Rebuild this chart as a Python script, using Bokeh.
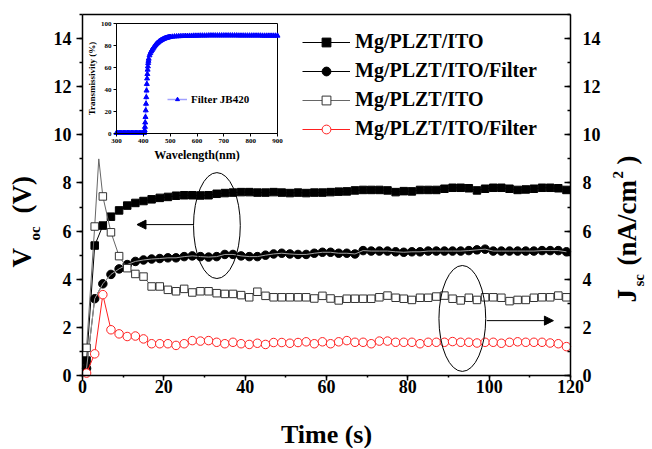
import numpy as np
from bokeh.plotting import figure
from bokeh.models import (Range1d, LinearAxis, SingleIntervalTicker, FixedTicker, Legend,
                          LegendItem, Label, Arrow, NormalHead)
from bokeh.embed import file_html
from bokeh.resources import INLINE

FONT = "Liberation Serif"

# ---------------- main chart data ----------------
time_s = list(range(1, 121, 2))
voc_ito = [0.62, 5.4, 6.23, 6.6, 6.86, 7.06, 7.17, 7.25, 7.32, 7.38, 7.42, 7.47, 7.49, 7.49,
           7.48, 7.49, 7.55, 7.58, 7.6, 7.62, 7.62, 7.6, 7.6, 7.62, 7.6, 7.58, 7.6, 7.58, 7.6,
           7.6, 7.62, 7.64, 7.65,
           7.69, 7.71, 7.71, 7.71, 7.69, 7.62, 7.66, 7.65, 7.71, 7.71, 7.71, 7.76, 7.8, 7.8,
           7.78, 7.69, 7.76, 7.8, 7.8, 7.76, 7.71, 7.73, 7.76, 7.8, 7.8, 7.78, 7.71]
voc_filter = [0.3, 3.19, 3.81, 4.2, 4.43, 4.61, 4.74, 4.8, 4.84, 4.86, 4.89, 4.89, 4.94, 4.97,
              4.94, 4.92, 4.94, 5.03, 5.03, 4.97, 4.94, 4.94, 5.0, 5.05, 5.08, 5.05, 5.03, 5.03,
              5.08, 5.12, 5.12, 5.08, 5.08,
              5.05, 5.19, 5.17, 5.17, 5.17, 5.14, 5.12, 5.14, 5.14, 5.17, 5.17, 5.17, 5.17,
              5.17, 5.19, 5.22, 5.25, 5.17, 5.17, 5.17, 5.17, 5.17, 5.17, 5.19, 5.19, 5.19, 5.14]
jsc_ito = [1.15, 6.19, 7.44, 5.95, 4.96, 4.46, 4.22, 4.11, 3.7, 3.7, 3.56, 3.5, 3.6, 3.45, 3.5,
           3.5, 3.42, 3.39, 3.39, 3.34, 3.25, 3.48, 3.31, 3.25, 3.25, 3.25, 3.25, 3.25, 3.2,
           3.31, 3.2, 3.12, 3.19,
           3.19, 3.19, 3.19, 3.25, 3.32, 3.23, 3.19, 3.14, 3.23, 3.23, 3.28, 3.32, 3.19, 3.12,
           3.23, 3.14, 3.25, 3.25, 3.23, 3.09, 3.14, 3.14, 3.23, 3.25, 3.25, 3.32, 3.25]
jsc_filter = [0.1, 0.9, 3.36, 1.9, 1.73, 1.62, 1.64, 1.52, 1.32, 1.32, 1.32, 1.25, 1.32, 1.45,
              1.43, 1.45, 1.38, 1.32, 1.38, 1.32, 1.29, 1.34, 1.29, 1.37, 1.37, 1.34, 1.37, 1.4,
              1.32, 1.4, 1.32, 1.4, 1.45,
              1.38, 1.38, 1.32, 1.43, 1.43, 1.38, 1.38, 1.38, 1.32, 1.38, 1.38, 1.38, 1.41,
              1.38, 1.38, 1.35, 1.38, 1.38, 1.34, 1.38, 1.4, 1.38, 1.38, 1.38, 1.35, 1.32, 1.2]
# unmarked sample in the J_sc (no filter) trace
jsc_peak_time = [4]
jsc_peak_value = [9.0]

legend_labels = ["Mg/PLZT/ITO", "Mg/PLZT/ITO/Filter", "Mg/PLZT/ITO", "Mg/PLZT/ITO/Filter"]

# ---------------- inset data (transmissivity of filter) ----------------
wl_flat = list(range(300, 401, 5))
tr_flat = [0.5, 0.5, 0.5, 0.5, 0.5, 0.5, 0.5, 0.5, 0.5, 0.5, 0.5,
           0.5, 0.5, 0.5, 0.5, 0.5, 0.5, 0.5, 0.5, 0.5, 0.5]
wl_rise = list(range(401, 421))
tr_rise = [0.5, 0.6, 0.9, 1.5, 3, 6, 10, 15, 21, 27, 33, 39, 45, 50, 54, 58, 61, 64, 66, 68]
wl_knee = list(range(423, 502, 3))
tr_knee = [71, 73, 74.6, 75.8, 77, 78, 79, 80, 80.9, 81.7, 82.4, 83, 83.6, 84.1, 84.6, 85,
           85.4, 85.8, 86.1, 86.4, 86.7, 86.9, 87.1, 87.3, 87.5, 87.7, 87.8]
wl_plateau = list(range(508, 901, 8))
tr_plateau = [88.0, 88.2, 88.3, 88.4, 88.5, 88.6, 88.7, 88.7, 88.8, 88.8,
              88.9, 88.9, 88.9, 89.0, 89.0, 89.0, 89.0, 89.1, 89.1, 89.1,
              89.1, 89.1, 89.1, 89.1, 89.1, 89.1, 89.1, 89.1, 89.1, 89.1,
              89.1, 89.0, 89.0, 89.0, 89.0, 89.0, 89.0, 89.0, 89.0, 89.0,
              89.0, 89.0, 88.9, 88.9, 88.9, 88.9, 88.9, 88.9, 88.9, 88.9]
inset_label = "Filter JB420"

# ---------------- layout (canvas pixels) ----------------
CW, CH = 650, 448
BOX = dict(l=82, r=570, t=14, b=375)         # main plot box
INS = dict(l=116, r=277, t=23, b=133)        # inset plot box
T_MIN, T_MAX, V_MIN, V_MAX = 0, 120, 0, 15
W_MIN, W_MAX, P_MIN, P_MAX = 300, 900, 0, 100


def span_x(lo, hi, box):
    per = (hi - lo) / (box["r"] - box["l"])
    return lo - box["l"] * per, hi + (CW - box["r"]) * per


def span_y(lo, hi, box):
    per = (hi - lo) / (box["b"] - box["t"])
    return lo - (CH - box["b"]) * per, hi + box["t"] * per


x0, x1 = span_x(T_MIN, T_MAX, BOX)
y0, y1 = span_y(V_MIN, V_MAX, BOX)
w0, w1 = span_x(W_MIN, W_MAX, INS)
p0, p1 = span_y(P_MIN, P_MAX, INS)

p = figure(width=CW, height=CH, output_backend="svg", toolbar_location=None,
           x_range=Range1d(x0, x1), y_range=Range1d(y0, y1),
           x_axis_location=None, y_axis_location=None, min_border=0,
           background_fill_color="white", border_fill_color="white")
p.extra_x_ranges = {"wl": Range1d(w0, w1)}
p.extra_y_ranges = {"jsc": Range1d(y0, y1), "tr": Range1d(p0, p1)}
p.grid.visible = False
p.outline_line_color = None


def style_axis(ax, t_in, t_out, standoff, size="18px", width=1.5):
    ax.axis_line_color = "black"
    ax.axis_line_width = width
    ax.major_tick_line_color = "black"
    ax.major_tick_line_width = width
    ax.minor_tick_line_color = "black"
    ax.minor_tick_line_width = width
    ax.major_tick_in = t_in
    ax.major_tick_out = t_out
    ax.minor_tick_in = t_in // 2
    ax.minor_tick_out = t_out // 2
    ax.major_label_text_font = FONT
    ax.major_label_text_font_style = "bold"
    ax.major_label_text_font_size = size
    ax.major_label_text_color = "black"
    ax.major_label_standoff = standoff


ax_b = LinearAxis(fixed_location=V_MIN, bounds=(T_MIN, T_MAX),
                  ticker=SingleIntervalTicker(interval=20, num_minor_ticks=2))
style_axis(ax_b, 0, 5, -1)
p.add_layout(ax_b, "below")
ax_t = LinearAxis(fixed_location=V_MAX, bounds=(T_MIN, T_MAX), ticker=FixedTicker(ticks=[]))
style_axis(ax_t, 0, 0, 0)
p.add_layout(ax_t, "above")
ax_l = LinearAxis(fixed_location=T_MIN, bounds=(V_MIN, V_MAX),
                  ticker=SingleIntervalTicker(interval=2, num_minor_ticks=2))
style_axis(ax_l, 0, 6, 5)
p.add_layout(ax_l, "left")
ax_r = LinearAxis(fixed_location=T_MAX, bounds=(V_MIN, V_MAX), y_range_name="jsc",
                  ticker=SingleIntervalTicker(interval=2, num_minor_ticks=2))
style_axis(ax_r, 6, 0, 12)
p.add_layout(ax_r, "right")

# ---------------- inset ----------------
p.quad(left=[W_MIN], right=[W_MAX], bottom=[P_MIN], top=[P_MAX], x_range_name="wl",
       y_range_name="tr", fill_color="white", line_color="black", line_width=1)
ia_b = LinearAxis(x_range_name="wl", y_range_name="tr", fixed_location=P_MIN,
                  bounds=(W_MIN, W_MAX), ticker=SingleIntervalTicker(interval=100, num_minor_ticks=0))
ia_l = LinearAxis(x_range_name="wl", y_range_name="tr", fixed_location=W_MIN,
                  bounds=(P_MIN, P_MAX), ticker=SingleIntervalTicker(interval=20, num_minor_ticks=0))
for ax in (ia_b, ia_l):
    style_axis(ax, 0, 3, 2, size="7px", width=1)
    ax.minor_tick_line_color = None
    ax.axis_label_text_font = FONT
    ax.axis_label_text_font_style = "bold"
    ax.axis_label_text_color = "black"
ia_b.axis_label = "Wavelength(nm)"
ia_b.axis_label_text_font_size = "12px"
ia_b.axis_label_standoff = 2
ia_l.axis_label = "Transmissivity (%)"
ia_l.axis_label_text_font_size = "9px"
ia_l.axis_label_standoff = 1
p.add_layout(ia_b, "below")
p.add_layout(ia_l, "left")

wl = wl_flat + wl_rise + wl_knee + wl_plateau
tr = tr_flat + tr_rise + tr_knee + tr_plateau
il = p.line(wl, tr, line_color="#a0a0ff", line_width=1.5, x_range_name="wl", y_range_name="tr")
it = p.scatter(wl, tr, marker="triangle", size=5, fill_color="#0000ff", line_color="#0000ff",
               x_range_name="wl", y_range_name="tr")

# ---------------- main series ----------------
r1l = p.line(time_s, voc_ito, line_color="black", line_width=1)
r1m = p.scatter(time_s, voc_ito, marker="square", size=7.5, fill_color="black", line_color="black")

r2l = p.line(time_s, voc_filter, line_color="black", line_width=1)
r2m = p.scatter(time_s, voc_filter, marker="circle", size=8.5, fill_color="black", line_color="black")
p.line(time_s, voc_filter, line_color="#a0a0a0", line_width=1)

jsc_line_t = time_s[:2] + jsc_peak_time + time_s[2:]
jsc_line_v = jsc_ito[:2] + jsc_peak_value + jsc_ito[2:]
r3l = p.line(jsc_line_t, jsc_line_v, line_color="#666666", line_width=1, y_range_name="jsc")
r3m = p.scatter(time_s, jsc_ito, marker="square", size=7.5, fill_color="white",
                line_color="#333333", line_width=1, y_range_name="jsc")

r4l = p.line(time_s, jsc_filter, line_color="#ff2020", line_width=1, y_range_name="jsc")
r4m = p.scatter(time_s, jsc_filter, marker="circle", size=8.5, fill_color="white",
                line_color="#ff2020", line_width=1, y_range_name="jsc")

# ellipses and arrows
p.ellipse(x=[33.05, 93.4], y=[6.23, 2.37], width=[11.5, 11.5], height=[4.4, 4.4],
          fill_color=None, line_color="black", line_width=1)
p.add_layout(Arrow(end=NormalHead(size=9, fill_color="black", line_color="black"),
                   x_start=27.3, y_start=6.27, x_end=13.4, y_end=6.27,
                   line_color="black", line_width=1))
p.add_layout(Arrow(end=NormalHead(size=9, fill_color="black", line_color="black"),
                   x_start=99.4, y_start=2.28, x_end=115.8, y_end=2.28,
                   line_color="black", line_width=1))

# legends
items = [LegendItem(label=legend_labels[0], renderers=[r1l, r1m]),
         LegendItem(label=legend_labels[1], renderers=[r2l, r2m]),
         LegendItem(label=legend_labels[2], renderers=[r3l, r3m]),
         LegendItem(label=legend_labels[3], renderers=[r4l, r4m])]
p.add_layout(Legend(items=items, location=(302, 308), glyph_width=48, glyph_height=22,
                    label_height=22, label_standoff=5, spacing=6, padding=0, margin=0,
                    border_line_color=None, background_fill_alpha=0,
                    label_text_font=FONT, label_text_font_style="bold",
                    label_text_font_size="20px", label_text_color="black"))
p.add_layout(Legend(items=[LegendItem(label=inset_label, renderers=[il, it])],
                    location=(167, 343), glyph_width=20, glyph_height=10, label_height=10,
                    label_standoff=4, padding=0, margin=0, border_line_color=None,
                    background_fill_alpha=0, label_text_font=FONT,
                    label_text_font_style="bold", label_text_font_size="11px",
                    label_text_color="black"))


# axis titles (positions given in canvas pixels)
def to_data(cx, cy):
    return x0 + cx * (x1 - x0) / CW, y1 - cy * (y1 - y0) / CH


def lab(text, cx, cy, size, angle=0.0, align="left"):
    x, y = to_data(cx, cy)
    p.add_layout(Label(x=x, y=y, text=text, angle=angle, text_align=align,
                       text_baseline="middle", text_font=FONT, text_font_style="bold",
                       text_font_size=size, text_color="black"))


rot = np.pi / 2
lab("V", 21.5, 267, "27px", rot)
lab("oc", 34, 240, "15px", rot)
lab("(V)", 21.5, 213, "27px", rot)
lab("J", 626.5, 302, "27px", rot)
lab("sc", 638, 286, "15px", rot)
lab("(nA/cm", 626.5, 265, "27px", rot)
lab("2", 617.5, 178, "15px", rot)
lab(")", 626.5, 164, "27px", rot)
lab("Time (s)", 326, 434, "26px", 0.0, "center")

open("out.html", "w").write(file_html(p, INLINE))
